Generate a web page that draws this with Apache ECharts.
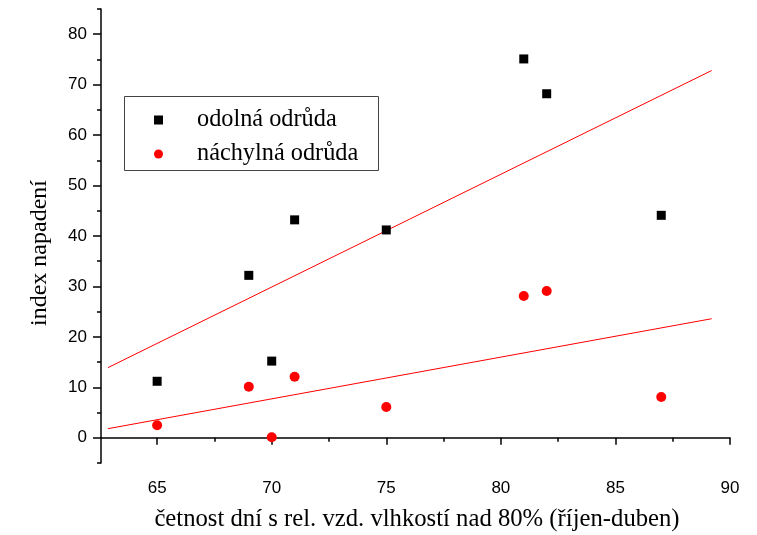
<!DOCTYPE html>
<html>
<head>
<meta charset="utf-8">
<script src="https://cdn.jsdelivr.net/npm/echarts@6/dist/echarts.min.js"></script>
<style>html,body{margin:0;padding:0;background:#fff}#c{width:757px;height:535px}</style>
</head>
<body>
<div id="c"></div>
<script>
// ---- data ----
const xValues = [65, 69, 70, 71, 75, 81, 82, 87];
const resistant = [11.2, 32.2, 15.2, 43.2, 41.2, 75.1, 68.2, 44.1];
const susceptible = [2.5, 10.1, 0.1, 12.1, 6.1, 28.1, 29.1, 8.1];
const fitX = [62.85, 89.2];
const resistantFitY = [13.9, 72.8];
const susceptibleFitY = [1.8, 23.6];
const xTicks = [65, 70, 75, 80, 85, 90];
const xMinorTicks = [67.5, 72.5, 77.5, 82.5, 87.5];
const yTicks = [0, 10, 20, 30, 40, 50, 60, 70, 80];
const yMinorTicks = [-5, 5, 15, 25, 35, 45, 55, 65, 75, 85];
const seriesNames = ['odolná odrůda', 'náchylná odrůda'];
const xTitle = 'četnost dní s rel. vzd. vlhkostí nad 80% (říjen-duben)';
const yTitle = 'index napadení';

const pairs = (xs, ys) => xs.map((x, i) => [x, ys[i]]);
const chart = echarts.init(document.getElementById('c'));
const tickFont = {fontFamily: 'Liberation Sans, Arial, sans-serif', fontSize: 17, color: '#000'};
const serif = 'Liberation Serif, Times New Roman, serif';
const axisLine = {show: true, lineStyle: {color: '#000', width: 1.5}};

chart.setOption({
  animation: false,
  backgroundColor: '#fff',
  grid: {left: 101, right: 27, top: 9, bottom: 72, containLabel: false},
  xAxis: [
    {type: 'value', min: 62.55, max: 90, axisLine,
     splitLine: {show: false},
     axisTick: {show: true, inside: false, length: 7, lineStyle: {color: '#000', width: 1.5}, customValues: xTicks},
     axisLabel: {show: true, margin: 17, customValues: xTicks, ...tickFont}},
    {type: 'value', min: 62.55, max: 90, position: 'bottom', offset: 0,
     axisLine: {show: false}, splitLine: {show: false},
     axisTick: {show: true, length: 4, lineStyle: {color: '#000', width: 1.5}, customValues: xMinorTicks},
     axisLabel: {show: false}}
  ],
  yAxis: [
    {type: 'value', min: -5, max: 85, axisLine,
     splitLine: {show: false},
     axisTick: {show: true, inside: false, length: 8, lineStyle: {color: '#000', width: 1.5}, customValues: yTicks},
     axisLabel: {show: true, margin: 14, customValues: yTicks, ...tickFont}},
    {type: 'value', min: -5, max: 85, position: 'left', offset: 0,
     axisLine: {show: false}, splitLine: {show: false},
     axisTick: {show: true, length: 4, lineStyle: {color: '#000', width: 1.5}, customValues: yMinorTicks},
     axisLabel: {show: false}}
  ],
  legend: {
    left: 154, top: 108, orient: 'vertical', padding: 0, itemGap: 10,
    itemWidth: 9, itemHeight: 9,
    data: [{name: seriesNames[0], icon: 'rect'}, {name: seriesNames[1], icon: 'circle'}],
    textStyle: {fontFamily: serif, fontSize: 24.3, color: '#000', padding: [0, 0, 0, 29], lineHeight: 24}
  },
  graphic: [
    {type: 'rect', shape: {x: 124.5, y: 96.5, width: 254, height: 74}, style: {fill: 'none', stroke: '#444', lineWidth: 1}, z: 0},
    {type: 'text', x: 40, y: 253, rotation: Math.PI / 2,
     style: {text: yTitle, font: '24px ' + serif, fill: '#000', align: 'center', verticalAlign: 'middle'}},
    {type: 'text', x: 417, y: 520,
     style: {text: xTitle, font: '24.7px ' + serif, fill: '#000', align: 'center', verticalAlign: 'middle'}}
  ],
  series: [
    {name: seriesNames[0], type: 'scatter', symbol: 'rect', symbolSize: 9,
     itemStyle: {color: '#000', opacity: 1}, data: pairs(xValues, resistant), z: 3},
    {name: seriesNames[1], type: 'scatter', symbol: 'circle', symbolSize: 10,
     itemStyle: {color: '#ff0000', opacity: 1}, data: pairs(xValues, susceptible), z: 3},
    {type: 'line', data: pairs(fitX, resistantFitY), symbol: 'none', silent: true,
     lineStyle: {color: '#ff0000', width: 1}, z: 2},
    {type: 'line', data: pairs(fitX, susceptibleFitY), symbol: 'none', silent: true,
     lineStyle: {color: '#ff0000', width: 1}, z: 2}
  ]
});
</script>
</body>
</html>
